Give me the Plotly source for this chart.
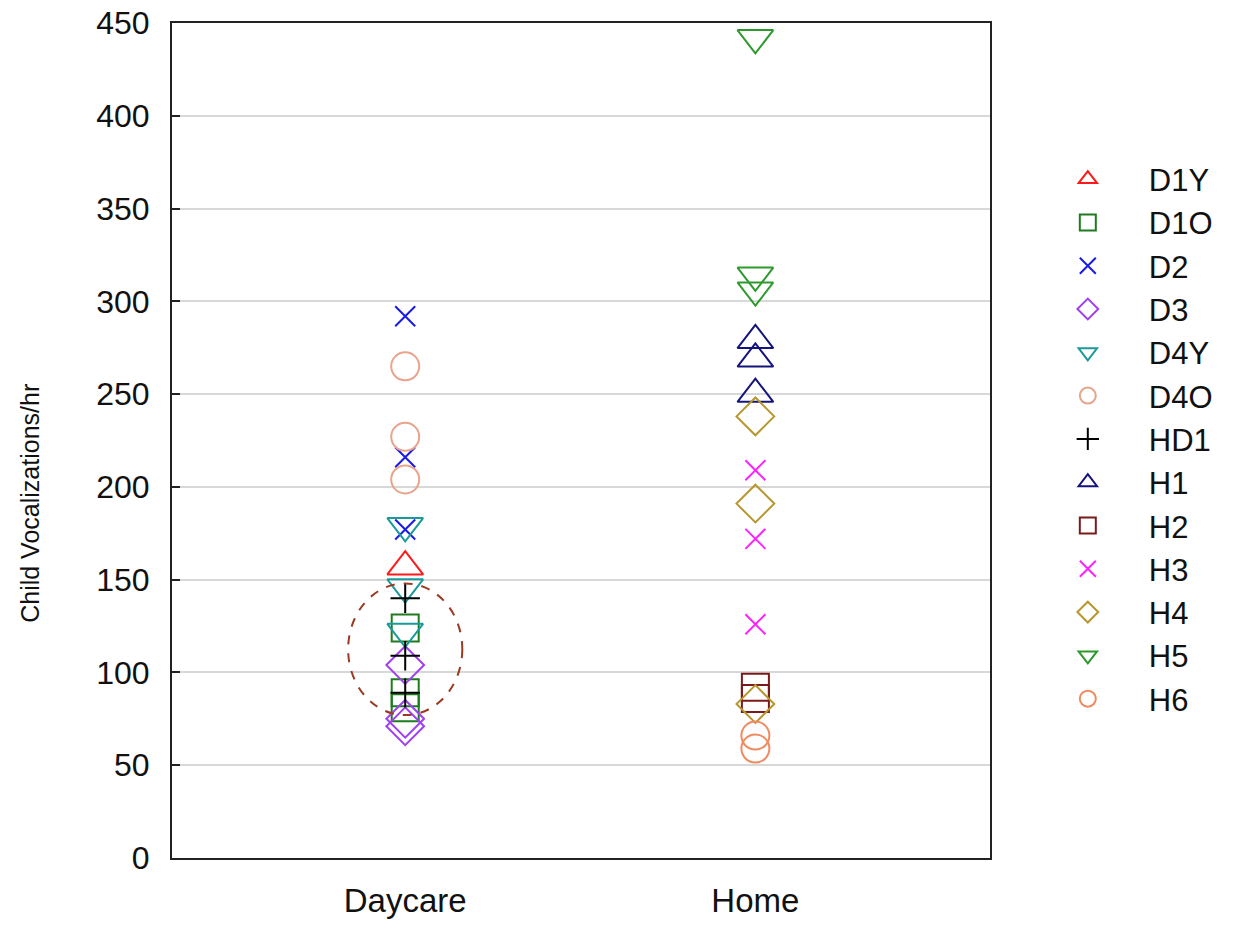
import plotly.graph_objects as go

categories = ["Daycare", "Home"]

series_names = ["D1Y", "D1O", "D2", "D3", "D4Y", "D4O", "HD1",
                "H1", "H2", "H3", "H4", "H5", "H6"]
series_setting = ["Daycare"] * 7 + ["Home"] * 6

D1Y = [157]
D1O = [124, 89, 81]
D2 = [292, 216, 177]
D3 = [104, 75, 71]
D4Y = [179, 146, 122]
D4O = [265, 227, 204]
HD1 = [140, 109, 89]
H1 = [279, 269, 250]
H2 = [92, 86]
H3 = [209, 172, 126]
H4 = [238, 191, 83]
H5 = [442, 314, 306]
H6 = [66, 59]

series_values = [D1Y, D1O, D2, D3, D4Y, D4O, HD1, H1, H2, H3, H4, H5, H6]

y_ticks = [0, 50, 100, 150, 200, 250, 300, 350, 400, 450]
y_title = "Child Vocalizations/hr"

styles = {
    "D1Y": ("triangle-up-open", "#ff1a1a", 31),
    "D1O": ("square-open", "#1e7b1e", 27),
    "D2": ("x-thin-open", "#1a1ae6", 20),
    "D3": ("diamond-open", "#a040f0", 29),
    "D4Y": ("triangle-down-open", "#1a9a9a", 31),
    "D4O": ("circle-open", "#e8a48c", 28),
    "HD1": ("cross-thin-open", "#000000", 21),
    "H1": ("triangle-up-open", "#14147a", 31),
    "H2": ("square-open", "#7a1a1a", 27),
    "H3": ("x-thin-open", "#ff22ff", 20),
    "H4": ("diamond-open", "#b8962e", 29),
    "H5": ("triangle-down-open", "#2e9a2e", 31),
    "H6": ("circle-open", "#f08a60", 28),
}

fig = go.Figure()
for name, setting, vals in zip(series_names, series_setting, series_values):
    sym, col, sz = styles[name]
    fig.add_trace(go.Scatter(
        x=[setting] * len(vals), y=vals, mode="markers", name=name,
        legendgroup=name,
        marker=dict(symbol=sym, size=sz, color=col,
                    line=dict(color=col, width=2)),
    ))

# dashed ellipse highlighting the daycare cluster
fig.add_shape(type="circle", xref="x", yref="y",
              x0=-0.163, x1=0.163, y0=77, y1=148,
              line=dict(color="#9a3a22", width=2, dash="dash"))

font_family = "Liberation Sans, Arial, sans-serif"

# y-axis title (placed slightly below the axis centre, as in the original)
fig.add_annotation(text=y_title, textangle=-90, xref="paper", yref="paper",
                   x=-0.174, y=0.425, xanchor="center", yanchor="middle",
                   showarrow=False, font=dict(size=25, family=font_family, color="#111"))

fig.update_layout(
    width=1237, height=931,
    margin=dict(l=172, r=247, t=23, b=73),
    paper_bgcolor="white", plot_bgcolor="white",
    font=dict(family=font_family, color="#111", size=28),
    showlegend=True,
    legend=dict(x=1.045, xanchor="left", y=0.845, yanchor="top",
                font=dict(size=31, family=font_family),
                tracegroupgap=0, itemwidth=112,
                bgcolor="rgba(0,0,0,0)"),
    xaxis=dict(type="category", categoryorder="array", categoryarray=categories,
               range=[-0.666, 1.67], showgrid=False, zeroline=False,
               showline=True, linecolor="#222", linewidth=2, mirror=True,
               ticks="", tickfont=dict(size=33, family=font_family),
               ticklabelstandoff=12, automargin=False),
    yaxis=dict(range=[0, 450], tickvals=y_ticks, showgrid=True,
               gridcolor="#d8d8d8", gridwidth=1.5, zeroline=False,
               showline=True, linecolor="#222", linewidth=2, mirror=True,
               ticks="inside", ticklen=8, tickwidth=1.5, tickcolor="#222",
               tickfont=dict(size=32, family=font_family),
               ticklabelstandoff=14, automargin=False,
               ticklabeloverflow="allow"),
)

fig.write_html("out.html", config={"displayModeBar": False},
               post_script="document.body.style.margin='0';")
